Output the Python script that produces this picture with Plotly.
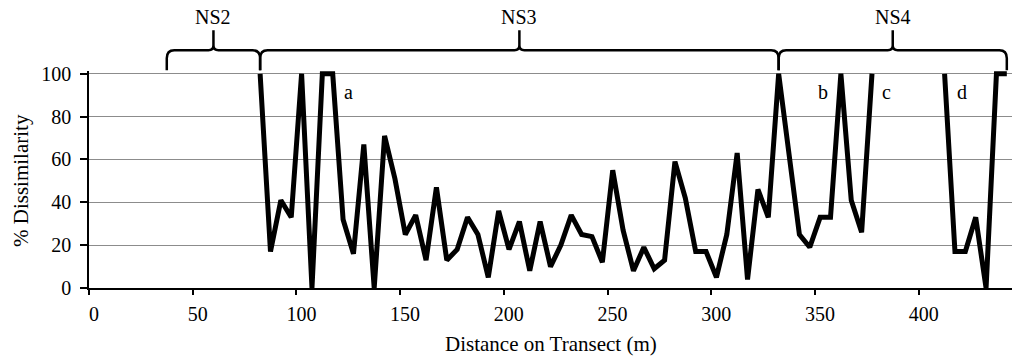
import plotly.graph_objects as go

# Data: distance (m) and % dissimilarity (None = no data)
distance = [82.5, 87.5, 92.5, 97.5, 102.5, 107.5, 112.5, 117.5, 122.5, 127.5,
            132.5, 137.5, 142.5, 147.5, 152.5, 157.5, 162.5, 167.5, 172.5, 177.5,
            182.5, 187.5, 192.5, 197.5, 202.5, 207.5, 212.5, 217.5, 222.5, 227.5,
            232.5, 237.5, 242.5, 247.5, 252.5, 257.5, 262.5, 267.5, 272.5, 277.5,
            282.5, 287.5, 292.5, 297.5, 302.5, 307.5, 312.5, 317.5, 322.5, 327.5,
            332.5, 337.5, 342.5, 347.5, 352.5, 357.5, 362.5, 367.5, 372.5, 377.5,
            382.5, 387.5, 392.5, 397.5, 402.5, 407.5,
            412.5, 417.5, 422.5, 427.5, 432.5, 437.5, 442.5]
dissimilarity = [100, 17, 41, 33, 100, 0, 100, 100, 32, 16,
                 67, 0, 71, 51, 25, 34, 13, 47, 13, 18,
                 33, 25, 5, 36, 18, 31, 8, 31, 10, 20,
                 34, 25, 24, 12, 55, 27, 8, 19, 9, 13,
                 59, 42, 17, 17, 5, 25, 63, 4, 46, 33,
                 100, 64, 25, 19, 33, 33, 100, 41, 26, 100,
                 None, None, None, None, None, None,
                 100, 17, 17, 33, 0, 100, 100]

# Zone brackets
zone_labels = ["NS2", "NS3", "NS4"]
zone_starts = [37.5, 82.5, 332.5]
zone_ends = [82.5, 332.5, 442.5]

# Letter annotations
letters = ["a", "b", "c", "d"]
letter_x = [125.2, 353.8, 384.7, 420.9]
letter_y = [91.3, 91.3, 91.3, 91.3]

x_ticks = [0, 50, 100, 150, 200, 250, 300, 350, 400]
y_ticks = [0, 20, 40, 60, 80, 100]

FONT = "'Liberation Serif', 'Times New Roman', Times, 'DejaVu Serif', serif"
W, H = 1012, 361
ml, mr, mt, mb = 89.3, 0, 70.7, 73.3
plot_h = H - mt - mb
bottom_px = H - mb


def py(ypx):
    return (bottom_px - ypx) / plot_h


fig = go.Figure()
fig.add_trace(go.Scatter(x=distance, y=dissimilarity, mode="lines",
                         line=dict(color="black", width=5),
                         connectgaps=False, showlegend=False, hoverinfo="skip"))

shapes = []
annotations = []
yH, yTip, yEnd = py(50), py(30), py(70)
r_end = 8 / plot_h
r_tip = 5 / plot_h
dx = 3.6
dt = 2.4
for lab, x0, x1 in zip(zone_labels, zone_starts, zone_ends):
    xm = (x0 + x1) / 2
    path = (f"M {x0},{yEnd} L {x0},{yH - r_end} Q {x0},{yH} {x0 + dx},{yH} "
            f"L {xm - dt},{yH} Q {xm},{yH} {xm},{yH + r_tip} L {xm},{yTip} "
            f"L {xm},{yH + r_tip} Q {xm},{yH} {xm + dt},{yH} "
            f"L {x1 - dx},{yH} Q {x1},{yH} {x1},{yH - r_end} L {x1},{yEnd}")
    shapes.append(dict(type="path", path=path, xref="x", yref="paper",
                       line=dict(color="black", width=2.5)))
    annotations.append(dict(x=xm, y=py(17), xref="x", yref="paper", text=lab,
                            showarrow=False, xanchor="center", yanchor="middle",
                            font=dict(family=FONT, size=20, color="black")))

for t, lx, ly in zip(letters, letter_x, letter_y):
    annotations.append(dict(x=lx, y=ly, xref="x", yref="y", text=t,
                            showarrow=False, xanchor="center", yanchor="middle",
                            font=dict(family=FONT, size=20, color="black")))

annotations.append(dict(x=0.5, y=py(344), xref="paper",
                        yref="paper", text="Distance on Transect (m)", showarrow=False,
                        xanchor="center", yanchor="middle",
                        font=dict(family=FONT, size=21, color="black")))
annotations.append(dict(x=(22 - ml) / (W - ml), y=py(180), xref="paper", yref="paper",
                        text="% Dissimilarity", showarrow=False, textangle=-90,
                        xanchor="center", yanchor="middle",
                        font=dict(family=FONT, size=21, color="black")))

fig.update_layout(
    width=W, height=H,
    margin=dict(l=ml, r=mr, t=mt, b=mb, pad=0),
    paper_bgcolor="white", plot_bgcolor="white",
    font=dict(family=FONT, size=20, color="black"),
    shapes=shapes, annotations=annotations,
    xaxis=dict(range=[0, 445], tickvals=x_ticks, ticktext=[str(v) for v in x_ticks],
               showgrid=False, zeroline=False, showline=True, linecolor="black",
               linewidth=1.5, ticks="outside", ticklen=5, tickwidth=1.5,
               tickcolor="black", ticklabelshift=5, ticklabelstandoff=2,
               tickfont=dict(family=FONT, size=20, color="black")),
    yaxis=dict(range=[0, 101.3], tickvals=y_ticks,
               ticktext=[str(v) + "\u00a0" for v in y_ticks],
               showgrid=True, gridcolor="#8c8c8c", gridwidth=1.2, zeroline=False,
               showline=True, linecolor="black", linewidth=1.5, ticks="outside",
               ticklen=7, tickwidth=1.5, tickcolor="black",
               tickfont=dict(family=FONT, size=20, color="black")),
)

fig.write_html("out.html")
